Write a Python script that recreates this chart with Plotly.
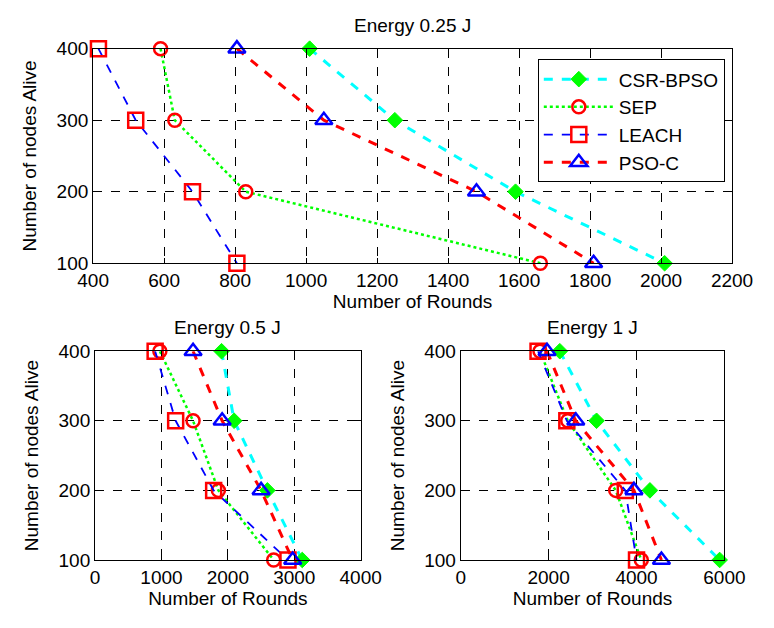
import plotly.graph_objects as go

W, H = 774, 628
nodes = [400, 300, 200, 100]

# Energy 0.25 J
csr_025 = [1010, 1250, 1590, 2010]
sep_025 = [590, 630, 830, 1660]
leach_025 = [415, 520, 680, 805]
pso_025 = [805, 1050, 1480, 1810]

# Energy 0.5 J
csr_05 = [1905, 2095, 2595, 3120]
sep_05 = [976, 1476, 1857, 2690]
leach_05 = [905, 1214, 1786, 2905]
pso_05 = [1476, 1914, 2500, 2976]

# Energy 1 J
csr_1 = [2255, 3091, 4305, 5891]
sep_1 = [1804, 2436, 3527, 4109]
leach_1 = [1760, 2415, 3745, 4000]
pso_1 = [1964, 2618, 3942, 4567]

names = ["CSR-BPSO", "SEP", "LEACH", "PSO-C"]
x_ticks_top = [400, 600, 800, 1000, 1200, 1400, 1600, 1800, 2000, 2200]
x_ticks_bl = [0, 1000, 2000, 3000, 4000]
x_ticks_br = [0, 2000, 4000, 6000]
y_ticks = [100, 200, 300, 400]

styles = {
    "CSR-BPSO": dict(line=dict(color="#00FFFF", dash="dash", width=3),
                     marker=dict(symbol="diamond", size=12, color="#00FF00",
                                 line=dict(color="#00FF00", width=1))),
    "SEP": dict(line=dict(color="#00FF00", dash="dot", width=2.5),
                marker=dict(symbol="circle-open", size=13, color="#FF0000",
                            line=dict(color="#FF0000", width=2.5))),
    "LEACH": dict(line=dict(color="#0000FF", dash="dash", width=1.8),
                  marker=dict(symbol="square-open", size=15, color="#FF0000",
                              line=dict(color="#FF0000", width=2.5))),
    "PSO-C": dict(line=dict(color="#FF0000", dash="dash", width=3),
                  marker=dict(symbol="triangle-up-open", size=15, color="#0000FF",
                              line=dict(color="#0000FF", width=2.5))),
}

fig = go.Figure()
panels = [
    ("x", "y", [csr_025, sep_025, leach_025, pso_025], True),
    ("x2", "y2", [csr_05, sep_05, leach_05, pso_05], False),
    ("x3", "y3", [csr_1, sep_1, leach_1, pso_1], False),
]
for xa, ya, series, show in panels:
    for nm, vals in zip(names, series):
        st = styles[nm]
        fig.add_trace(go.Scatter(
            x=vals, y=nodes, mode="lines+markers", name=nm,
            line=st["line"], marker=st["marker"], xaxis=xa, yaxis=ya,
            showlegend=show, cliponaxis=False))

FONT = "Liberation Sans, Arial, sans-serif"
tf = dict(family=FONT, size=19, color="black")

def xd(a, b):
    return [a / W, b / W]

def yd(top, bottom):
    return [1 - bottom / H, 1 - top / H]

common = dict(showline=True, mirror="ticks", linecolor="black", linewidth=1,
              ticks="inside", ticklen=5, tickcolor="black",
              showgrid=True, gridcolor="black", griddash="dash", gridwidth=1,
              zeroline=False, tickfont=tf)

xt = dict(text="Number of Rounds", font=tf, standoff=4)
yt = dict(text="Number of nodes Alive", font=tf, standoff=14)

fig.update_layout(
    width=W, height=H,
    margin=dict(l=0, r=0, t=0, b=0),
    paper_bgcolor="white", plot_bgcolor="white",
    font=dict(family=FONT, size=19, color="black"),
    xaxis=dict(domain=xd(81, 752), range=[400, 2200], tickvals=x_ticks_top,
               anchor="y", title=xt, **common),
    yaxis=dict(domain=yd(40, 262), range=[100, 400], tickvals=y_ticks,
               anchor="x", title=yt, **common),
    xaxis2=dict(domain=xd(83, 362), range=[0, 4000], tickvals=x_ticks_bl,
                anchor="y2", title=xt, **common),
    yaxis2=dict(domain=yd(353, 569), range=[100, 400], tickvals=y_ticks,
                anchor="x2", title=yt, **common),
    xaxis3=dict(domain=xd(467, 744), range=[0, 6000], tickvals=x_ticks_br,
                anchor="y3", title=xt, **common),
    yaxis3=dict(domain=yd(353, 569), range=[100, 400], tickvals=y_ticks,
                anchor="x3", title=yt, **common),
    legend=dict(x=548 / W, y=1 - 51 / H, xanchor="left", yanchor="top",
                bordercolor="black", borderwidth=1, bgcolor="white",
                font=tf, itemwidth=70, tracegroupgap=0),
    annotations=[
        dict(text="Energy 0.25 J", x=(81 + 752) / 2 / W, y=1 - 16 / H, xref="paper", yref="paper",
             showarrow=False, font=tf, xanchor="center", yanchor="middle"),
        dict(text="Energy 0.5 J", x=(83 + 362) / 2 / W, y=1 - 328 / H, xref="paper", yref="paper",
             showarrow=False, font=tf, xanchor="center", yanchor="middle"),
        dict(text="Energy 1 J", x=(467 + 744) / 2 / W, y=1 - 328 / H, xref="paper", yref="paper",
             showarrow=False, font=tf, xanchor="center", yanchor="middle"),
    ],
)

fig.write_html("out.html")
